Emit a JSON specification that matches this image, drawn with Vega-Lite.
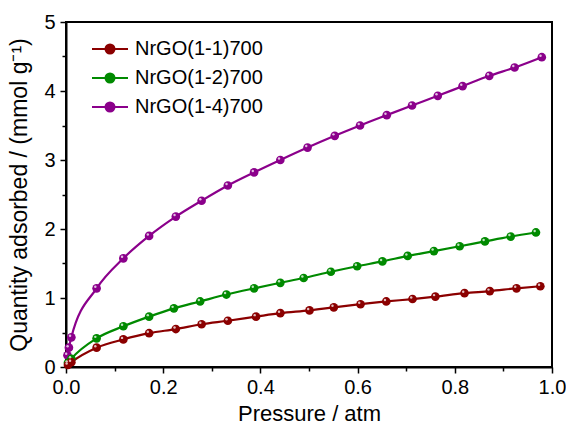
{
  "$schema": "https://vega.github.io/schema/vega-lite/v6.json",
  "width": 486,
  "height": 345,
  "autosize": {"type": "none"},
  "padding": {"left": 66, "top": 22, "right": 14, "bottom": 58},
  "background": "white",
  "config": {
    "font": "Liberation Sans",
    "view": {"stroke": "black", "strokeWidth": 2},
    "axis": {"grid": false, "labelFlush": false, "labelOverlap": false, "domainColor": "black", "domainWidth": 2, "tickColor": "black", "tickWidth": 1.5, "labelColor": "black", "titleColor": "black", "labelFont": "Liberation Sans", "titleFont": "Liberation Sans", "titleFontWeight": "normal", "labelFontSize": 20, "titleFontSize": 22}
  },
  "data": {"values": [
    {"s": "NrGO(1-4)700", "p": 0.003, "q": 0.17},
    {"s": "NrGO(1-4)700", "p": 0.006, "q": 0.28},
    {"s": "NrGO(1-4)700", "p": 0.011, "q": 0.43},
    {"s": "NrGO(1-4)700", "p": 0.063, "q": 1.14},
    {"s": "NrGO(1-4)700", "p": 0.118, "q": 1.575},
    {"s": "NrGO(1-4)700", "p": 0.171, "q": 1.90},
    {"s": "NrGO(1-4)700", "p": 0.226, "q": 2.18},
    {"s": "NrGO(1-4)700", "p": 0.279, "q": 2.41},
    {"s": "NrGO(1-4)700", "p": 0.333, "q": 2.63},
    {"s": "NrGO(1-4)700", "p": 0.387, "q": 2.82},
    {"s": "NrGO(1-4)700", "p": 0.441, "q": 3.00},
    {"s": "NrGO(1-4)700", "p": 0.497, "q": 3.18},
    {"s": "NrGO(1-4)700", "p": 0.553, "q": 3.35},
    {"s": "NrGO(1-4)700", "p": 0.605, "q": 3.50},
    {"s": "NrGO(1-4)700", "p": 0.660, "q": 3.65},
    {"s": "NrGO(1-4)700", "p": 0.712, "q": 3.79},
    {"s": "NrGO(1-4)700", "p": 0.765, "q": 3.93},
    {"s": "NrGO(1-4)700", "p": 0.816, "q": 4.07},
    {"s": "NrGO(1-4)700", "p": 0.871, "q": 4.22},
    {"s": "NrGO(1-4)700", "p": 0.923, "q": 4.34},
    {"s": "NrGO(1-4)700", "p": 0.979, "q": 4.49},
    {"s": "NrGO(1-2)700", "p": 0.004, "q": 0.06},
    {"s": "NrGO(1-2)700", "p": 0.011, "q": 0.12},
    {"s": "NrGO(1-2)700", "p": 0.063, "q": 0.415},
    {"s": "NrGO(1-2)700", "p": 0.118, "q": 0.59},
    {"s": "NrGO(1-2)700", "p": 0.171, "q": 0.73},
    {"s": "NrGO(1-2)700", "p": 0.222, "q": 0.85},
    {"s": "NrGO(1-2)700", "p": 0.276, "q": 0.95},
    {"s": "NrGO(1-2)700", "p": 0.330, "q": 1.05},
    {"s": "NrGO(1-2)700", "p": 0.387, "q": 1.14},
    {"s": "NrGO(1-2)700", "p": 0.441, "q": 1.22},
    {"s": "NrGO(1-2)700", "p": 0.489, "q": 1.29},
    {"s": "NrGO(1-2)700", "p": 0.545, "q": 1.38},
    {"s": "NrGO(1-2)700", "p": 0.599, "q": 1.46},
    {"s": "NrGO(1-2)700", "p": 0.651, "q": 1.53},
    {"s": "NrGO(1-2)700", "p": 0.703, "q": 1.61},
    {"s": "NrGO(1-2)700", "p": 0.757, "q": 1.68},
    {"s": "NrGO(1-2)700", "p": 0.810, "q": 1.75},
    {"s": "NrGO(1-2)700", "p": 0.862, "q": 1.82},
    {"s": "NrGO(1-2)700", "p": 0.915, "q": 1.89},
    {"s": "NrGO(1-2)700", "p": 0.967, "q": 1.95},
    {"s": "NrGO(1-1)700", "p": 0.004, "q": 0.03},
    {"s": "NrGO(1-1)700", "p": 0.011, "q": 0.07},
    {"s": "NrGO(1-1)700", "p": 0.063, "q": 0.28},
    {"s": "NrGO(1-1)700", "p": 0.118, "q": 0.40},
    {"s": "NrGO(1-1)700", "p": 0.171, "q": 0.49},
    {"s": "NrGO(1-1)700", "p": 0.226, "q": 0.55},
    {"s": "NrGO(1-1)700", "p": 0.279, "q": 0.62},
    {"s": "NrGO(1-1)700", "p": 0.333, "q": 0.67},
    {"s": "NrGO(1-1)700", "p": 0.391, "q": 0.73},
    {"s": "NrGO(1-1)700", "p": 0.441, "q": 0.78},
    {"s": "NrGO(1-1)700", "p": 0.501, "q": 0.82},
    {"s": "NrGO(1-1)700", "p": 0.551, "q": 0.865},
    {"s": "NrGO(1-1)700", "p": 0.606, "q": 0.91},
    {"s": "NrGO(1-1)700", "p": 0.659, "q": 0.95},
    {"s": "NrGO(1-1)700", "p": 0.713, "q": 0.985},
    {"s": "NrGO(1-1)700", "p": 0.760, "q": 1.02},
    {"s": "NrGO(1-1)700", "p": 0.820, "q": 1.07},
    {"s": "NrGO(1-1)700", "p": 0.872, "q": 1.10},
    {"s": "NrGO(1-1)700", "p": 0.927, "q": 1.14},
    {"s": "NrGO(1-1)700", "p": 0.976, "q": 1.17}
  ]},
  "resolve": {"axis": {"x": "independent", "y": "independent"}},
  "layer": [
    {
      "mark": {"type": "point", "opacity": 0, "size": 1},
      "encoding": {
        "x": {"field": "p", "type": "quantitative", "scale": {"domain": [0, 1], "nice": false},
          "axis": {"orient": "bottom", "title": null, "labels": false, "domain": false, "values": [0.1, 0.3, 0.5, 0.7, 0.9], "tickSize": 4}},
        "y": {"field": "q", "type": "quantitative", "scale": {"domain": [0, 5], "nice": false},
          "axis": {"orient": "left", "title": null, "labels": false, "domain": false, "values": [0.5, 1.5, 2.5, 3.5, 4.5], "tickSize": 4}}
      }
    },
    {
      "mark": {"type": "line", "interpolate": "monotone", "strokeWidth": 2.2, "clip": true},
      "encoding": {
        "x": {"field": "p", "type": "quantitative",
          "axis": {"orient": "bottom", "title": "Pressure / atm", "values": [0, 0.2, 0.4, 0.6, 0.8, 1.0], "format": ".1f", "tickSize": 6, "labelPadding": 4, "titlePadding": 6}},
        "y": {"field": "q", "type": "quantitative",
          "axis": {"orient": "left", "title": "Quantity adsorbed / (mmol g⁻¹)", "titleFontSize": 23, "values": [0, 1, 2, 3, 4, 5], "tickSize": 6, "labelPadding": 5, "titlePadding": 12}},
        "color": {"field": "s", "type": "nominal",
          "scale": {"domain": ["NrGO(1-1)700", "NrGO(1-2)700", "NrGO(1-4)700"], "range": ["#8b0000", "#008a00", "#8b008b"]},
          "legend": {"title": null, "orient": "none", "legendX": 25, "legendY": 8, "padding": 0,
            "symbolType": "M-1,0H1M-0.25,0A0.25,0.25,0,1,1,0.25,0A0.25,0.25,0,1,1,-0.25,0Z",
            "symbolSize": 1296, "symbolStrokeWidth": 2, "labelFontSize": 20, "labelFont": "Liberation Sans", "labelColor": "black", "labelOffset": 6, "rowPadding": 0,
            "encode": {"symbols": {"update": {"fill": {"scale": "color", "field": "value"}, "stroke": {"scale": "color", "field": "value"}, "fillOpacity": {"value": 1}}}}}
        }
      }
    },
    {
      "mark": {"type": "point", "filled": true, "size": 75, "opacity": 1},
      "encoding": {
        "x": {"field": "p", "type": "quantitative", "axis": null},
        "y": {"field": "q", "type": "quantitative", "axis": null},
        "color": {"field": "s", "type": "nominal", "legend": null}
      }
    },
    {
      "mark": {"type": "point", "filled": true, "size": 6, "opacity": 0.75, "color": "white", "xOffset": -1.3, "yOffset": -1.5},
      "encoding": {
        "x": {"field": "p", "type": "quantitative", "axis": null},
        "y": {"field": "q", "type": "quantitative", "axis": null}
      }
    }
  ]
}
